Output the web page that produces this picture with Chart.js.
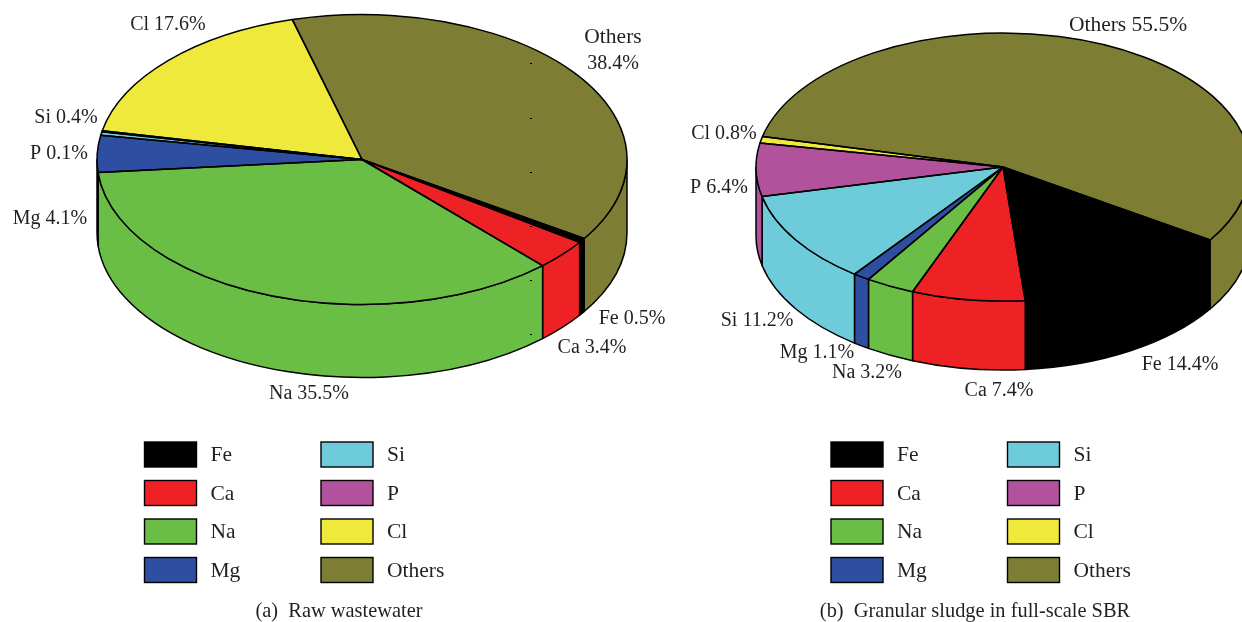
<!DOCTYPE html>
<html>
<head>
<meta charset="utf-8">
<title>Elemental composition</title>
<script src="https://cdn.jsdelivr.net/npm/chart.js@4"></script>
<style>
  html, body { margin: 0; padding: 0; background: #fff; overflow: hidden; }
  canvas { position: absolute; left: 0; top: 0; }
</style>
</head>
<body>
<canvas id="rawChart" width="1242" height="622"></canvas>
<canvas id="sludgeChart" width="1242" height="622"></canvas>
<script>
const categories = ["Fe", "Ca", "Na", "Mg", "Si", "P", "Cl", "Others"];
const rawValues = [0.5, 3.4, 35.5, 4.1, 0.4, 0.1, 17.6, 38.4];
const sludgeValues = [14.4, 7.4, 3.2, 1.1, 11.2, 6.4, 0.8, 55.5];
const sliceColors = ["#000000", "#ee2225", "#6abd45", "#2e4fa1", "#6dcbda", "#b2519c", "#efe93c", "#7d7e33"];

const TEXT_COLOR = "#231f20";
const FONT = '20px "Liberation Serif", serif';
const FONT_WIDE = '21.5px "Liberation Serif", serif';
const FONT_CAPTION = '20.4px "Liberation Serif", serif';

// centre x / y of each slice label, same order as categories
const rawLabelPos = [[632, 319], [592, 348], [309, 394], [50, 219], [66, 118], [59, 154], [168, 25], [613, 37]];
const sludgeLabelPos = [[1180, 365], [999, 391], [867, 373], [817, 353], [757, 321], [719, 188], [724, 134], [1128, 25]];

// stray ticks left in the original artwork
const rawSpecks = [[531, 63], [531, 118], [531, 172], [531, 226], [531, 280], [531, 334]];

function makePie(canvasId, values, layout) {
  const pie3d = {
    id: "pie3d",
    beforeDatasetsDraw(chart) {
      const ctx = chart.ctx;
      const arcs = chart.getDatasetMeta(0).data;
      const squash = layout.ry / layout.rx;
      const { x, y } = arcs[0];

      ctx.save();
      ctx.translate(layout.cx, layout.cy);
      ctx.scale(1, squash);
      ctx.translate(-x, -y);
      this.matrix = ctx.getTransform();

      // side wall, only the part facing the viewer
      const drop = layout.depth / squash;
      arcs.forEach((arc, i) => {
        [0, Math.PI * 2].forEach((turn) => {
          const from = Math.max(arc.startAngle, turn);
          const to = Math.min(arc.endAngle, turn + Math.PI);
          if (to <= from) return;
          ctx.beginPath();
          ctx.arc(x, y, arc.outerRadius, from, to);
          ctx.arc(x, y + drop, arc.outerRadius, to, from, true);
          ctx.closePath();
          ctx.fillStyle = sliceColors[i];
          ctx.fill();
          strokeFlat(ctx, this.matrix);
        });
      });
    },
    afterDatasetsDraw(chart) {
      const ctx = chart.ctx;
      const arcs = chart.getDatasetMeta(0).data;
      arcs.forEach((arc) => {
        ctx.beginPath();
        ctx.moveTo(arc.x, arc.y);
        ctx.arc(arc.x, arc.y, arc.outerRadius, arc.startAngle, arc.endAngle);
        ctx.closePath();
        strokeFlat(ctx, this.matrix);
      });
      ctx.restore();
    },
    afterDraw(chart) {
      const ctx = chart.ctx;
      ctx.save();
      ctx.fillStyle = "#000";
      (layout.specks || []).forEach(([sx, sy]) => ctx.fillRect(sx - 1, sy, 2, 1));

      ctx.fillStyle = TEXT_COLOR;
      ctx.textAlign = "center";
      ctx.textBaseline = "middle";
      categories.forEach((name, i) => {
        const [lx, ly] = layout.labelPos[i];
        ctx.font = name === "Others" ? FONT_WIDE : FONT;
        if (layout.splitOthers && name === "Others") {
          ctx.fillText(name, lx, ly);
          ctx.font = FONT;
          ctx.fillText(values[i] + "%", lx, ly + 27);
        } else {
          ctx.fillText(name + " " + values[i].toFixed(1) + "%", lx, ly);
        }
      });

      // legend, two columns of four
      ctx.font = FONT_WIDE;
      categories.forEach((name, i) => {
        const col = i < 4 ? 0 : 1;
        const row = i % 4;
        const bx = layout.legendX + col * 176.5;
        const by = 442 + row * 38.5;
        ctx.fillStyle = sliceColors[i];
        ctx.fillRect(bx, by, 52, 25);
        ctx.strokeStyle = "#000";
        ctx.lineWidth = 1.4;
        ctx.strokeRect(bx, by, 52, 25);
        ctx.fillStyle = TEXT_COLOR;
        ctx.textAlign = "left";
        ctx.fillText(name, bx + 66, by + 13.5);
      });

      ctx.font = FONT_CAPTION;
      ctx.textAlign = "center";
      ctx.fillText(layout.caption, layout.captionX, 612);
      ctx.restore();
    }
  };

  return new Chart(document.getElementById(canvasId), {
    type: "pie",
    data: {
      labels: categories,
      datasets: [{
        data: values,
        backgroundColor: sliceColors,
        borderWidth: 0,
        clip: false
      }]
    },
    options: {
      responsive: false,
      animation: false,
      events: [],
      radius: layout.rx,
      rotation: 123, // first slice starts 33 degrees below 3 o'clock
      plugins: { legend: { display: false }, tooltip: { enabled: false } }
    },
    plugins: [pie3d]
  });
}

// stroke the current path at even width, whatever transform built it
function strokeFlat(ctx, matrix) {
  ctx.save();
  ctx.resetTransform();
  ctx.lineWidth = 1.5;
  ctx.lineJoin = "round";
  ctx.strokeStyle = "#000";
  ctx.stroke();
  ctx.setTransform(matrix);
  ctx.restore();
}

makePie("rawChart", rawValues, {
  cx: 362, cy: 159.5, rx: 265, ry: 145, depth: 73,
  labelPos: rawLabelPos, splitOthers: true, specks: rawSpecks,
  legendX: 144.5, caption: "(a)  Raw wastewater", captionX: 339
});

makePie("sludgeChart", sludgeValues, {
  cx: 1003, cy: 167, rx: 247, ry: 134, depth: 69,
  labelPos: sludgeLabelPos,
  legendX: 831, caption: "(b)  Granular sludge in full-scale SBR", captionX: 975
});
</script>
</body>
</html>
